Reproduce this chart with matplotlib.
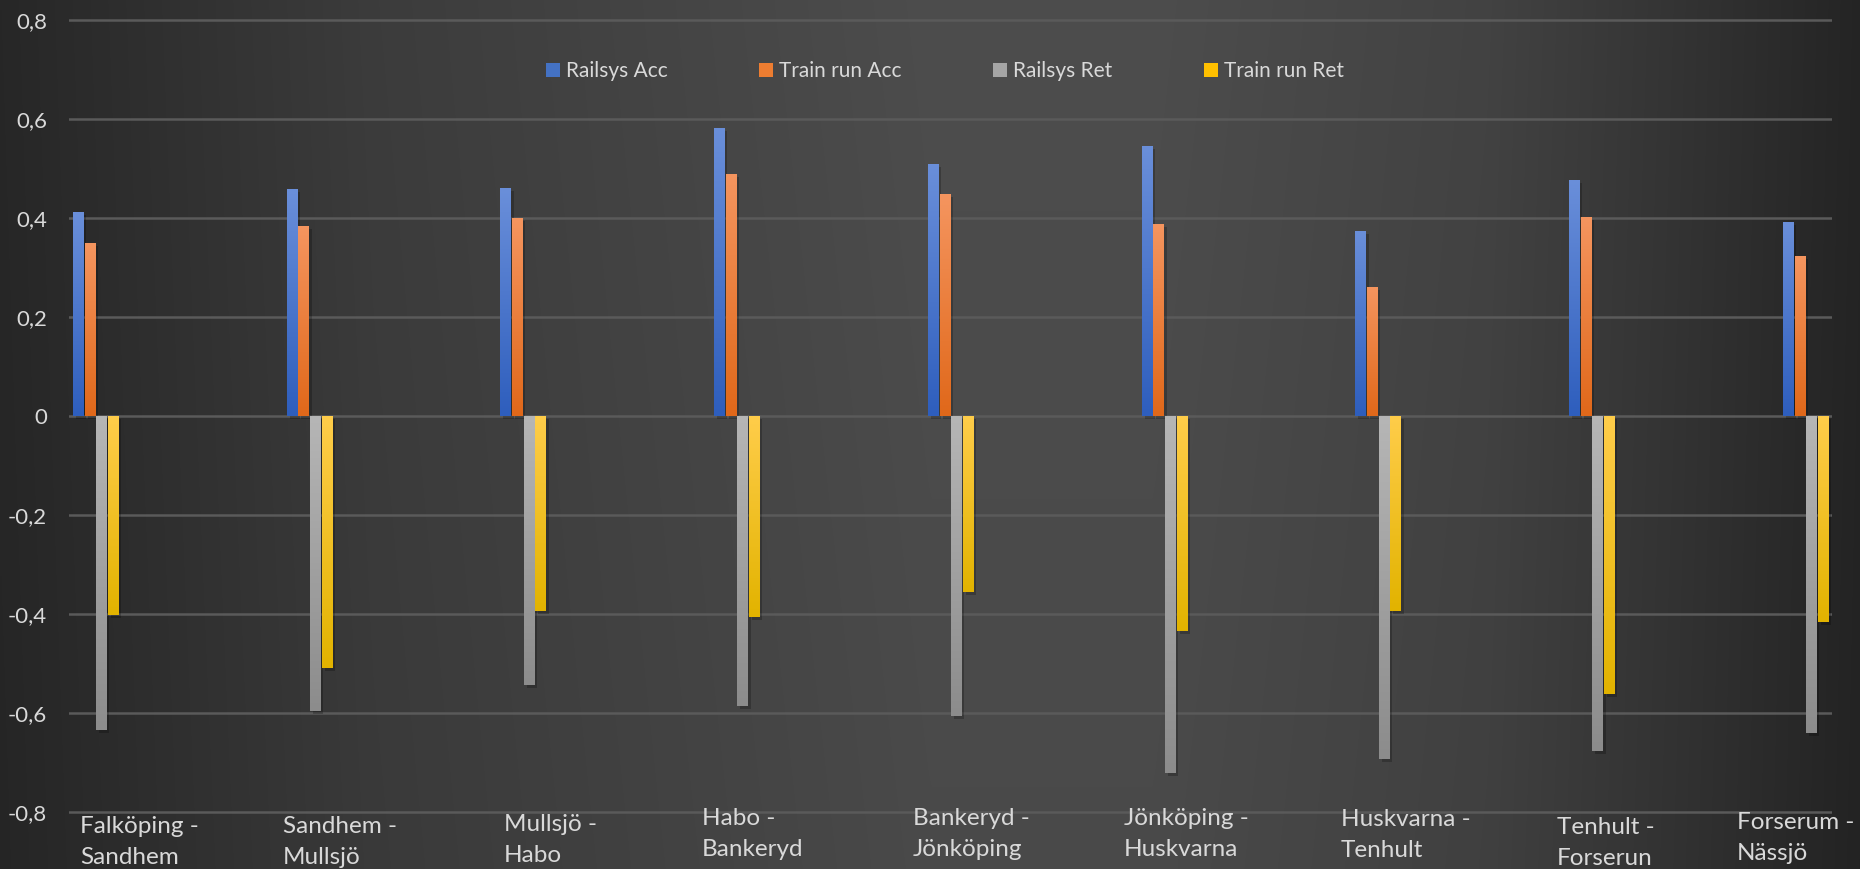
import numpy as np
import matplotlib
matplotlib.use("Agg")
import matplotlib.pyplot as plt
from matplotlib.colors import LinearSegmentedColormap
from matplotlib.patches import Rectangle, Patch
from matplotlib.ticker import FixedLocator, FuncFormatter
import matplotlib.transforms as mtransforms

# ---------------- data ----------------
label_line1 = ["Falköping -", "Sandhem -", "Mullsjö -", "Habo -", "Bankeryd -",
               "Jönköping -", "Huskvarna -", "Tenhult -", "Forserum -"]
label_line2 = ["Sandhem", "Mullsjö", "Habo", "Bankeryd", "Jönköping",
               "Huskvarna", "Tenhult", "Forserun", "Nässjö"]
series_names = ["Railsys Acc", "Train run Acc", "Railsys Ret", "Train run Ret"]
railsys_acc = [0.411, 0.458, 0.460, 0.582, 0.508, 0.544, 0.374, 0.477, 0.392]
train_run_acc = [0.349, 0.383, 0.400, 0.489, 0.448, 0.388, 0.261, 0.402, 0.322]
railsys_ret = [-0.635, -0.597, -0.545, -0.586, -0.607, -0.722, -0.693, -0.678, -0.641]
train_run_ret = [-0.402, -0.509, -0.394, -0.406, -0.356, -0.435, -0.394, -0.562, -0.417]
y_ticks = [-0.8, -0.6, -0.4, -0.2, 0.0, 0.2, 0.4, 0.6, 0.8]

# ---------------- layout / style ----------------
W, H, DPI = 1860, 869, 100
FONT = ["Lato", "DejaVu Sans"]
TXT = "#d9d9d9"
grad_colors = [("#6a8fda", "#2e5ebd"),   # blue
               ("#f5955f", "#e0681a"),   # orange
               ("#b6b6b6", "#8c8c8c"),   # gray
               ("#ffcd4a", "#e2b300")]   # yellow
legend_colors = ["#4472c4", "#ed7d31", "#a5a5a5", "#ffc000"]
# label anchor positions in pixels (x left, baseline of first line)
label_px = [(80, 833), (283, 833), (504, 831), (702, 825), (913, 825),
            (1124, 825), (1341, 826), (1557, 834), (1737, 829)]
line_gap = 31

plt.rcParams['font.family'] = FONT
fig = plt.figure(figsize=(W / DPI, H / DPI), dpi=DPI)

# background gradient
bg = fig.add_axes([0, 0, 1, 1], zorder=-10)
u = np.linspace(0, 1, 600)
stops_u = [0.0, 0.2, 0.5, 0.62, 0.8, 0.9, 1.0]
stops_v = [0.15, 0.23, 0.295, 0.295, 0.255, 0.2, 0.14]
row = np.interp(u, stops_u, stops_v)
vv = np.linspace(0, 1, 300)[:, None]
img = row[None, :] * (1.0 - 0.04 * (vv - 0.5))
bg.imshow(np.dstack([img, img, img]), aspect='auto', extent=[0, 1, 0, 1],
          origin='upper', interpolation='bilinear')
bg.set_axis_off()

# main axes
px_per_unit = 495.0
y_zero = 415.7
ylo, yhi = -0.82, 0.82
top_px = y_zero - yhi * px_per_unit
bot_px = y_zero - ylo * px_per_unit
left_px, right_px = 69, 1832
ax = fig.add_axes([left_px / W, (H - bot_px) / H, (right_px - left_px) / W,
                   (bot_px - top_px) / H])
ax.set_facecolor('none')
ax.set_ylim(ylo, yhi)
ax.set_xlim(-0.124, 8.124)
for s in ax.spines.values():
    s.set_visible(False)

ax.yaxis.set_major_locator(FixedLocator(y_ticks))
ax.yaxis.set_major_formatter(FuncFormatter(
    lambda v, p: "0" if abs(v) < 1e-9 else f"{v:.1f}".replace(".", ",")))
ax.tick_params(axis='y', length=0, pad=15.8, labelsize=16, labelcolor=TXT)
ax.set_xticks([])
ax.yaxis.grid(True, color="#5a5a5a", lw=1.8, zorder=0)
ax.set_axisbelow(True)

x = np.arange(len(label_line1))
width = 0.048
step = 0.0545
series = [railsys_acc, train_run_acc, railsys_ret, train_run_ret]
shadow_tr = ax.transData + mtransforms.ScaledTranslation(3 / DPI, -3 / DPI, fig.dpi_scale_trans)
for k, (vals, (ctop, cbot)) in enumerate(zip(series, grad_colors)):
    off = (k - 1.5) * step
    bars = ax.bar(x + off, vals, width, color='none', edgecolor='none', zorder=3)
    cmap = LinearSegmentedColormap.from_list(f"g{k}", [ctop, cbot])
    for rect in bars:
        x0, y0 = rect.get_x(), rect.get_y()
        w, h = rect.get_width(), rect.get_height()
        yb, yt = min(y0, y0 + h), max(y0, y0 + h)
        sh = Rectangle((x0, yb), w, yt - yb, facecolor='black', alpha=0.22,
                       edgecolor='none', transform=shadow_tr, zorder=2.5)
        ax.add_patch(sh)
        grad = np.linspace(0, 1, 128).reshape(-1, 1)
        im = ax.imshow(grad, cmap=cmap, extent=[x0, x0 + w, yb, yt],
                       origin='upper', aspect='auto', zorder=3,
                       interpolation='bilinear')
        im.set_clip_path(rect)
ax.set_xlim(-0.124, 8.124)
ax.set_ylim(ylo, yhi)

# category labels
for (lx, ly), l1, l2 in zip(label_px, label_line1, label_line2):
    fig.text(lx / W, (H - ly) / H, l1, color=TXT, fontsize=17.5,
             ha='left', va='baseline')
    fig.text(lx / W, (H - ly - line_gap) / H, l2, color=TXT, fontsize=17.5,
             ha='left', va='baseline')

# legend
handles = [Patch(facecolor=c, edgecolor='none', label=n)
           for c, n in zip(legend_colors, series_names)]
leg = ax.legend(handles=handles, ncol=4, loc='center',
                bbox_to_anchor=(945 / W, (H - 71) / H),
                bbox_transform=fig.transFigure, frameon=False, fontsize=15,
                handlelength=0.65, handleheight=0.65, handletextpad=0.3,
                columnspacing=4.4, labelcolor=TXT)

fig.savefig("out.png", dpi=DPI)
